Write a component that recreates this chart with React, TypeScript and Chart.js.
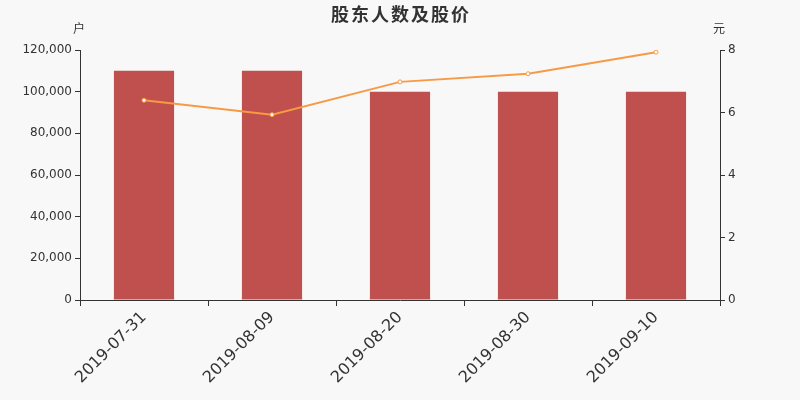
import { useEffect, useRef } from "react";
import { Chart, registerables, Plugin } from "chart.js";

Chart.register(...registerables);

const dates = ["2019-07-31", "2019-08-09", "2019-08-20", "2019-08-30", "2019-09-10"];
const holders = [110000, 110000, 100000, 100000, 100000];
const prices = [6.39, 5.93, 6.98, 7.24, 7.93];

const BG = "#f8f8f8";
const TEXT = "#333333";
const FONT = "'DejaVu Sans', 'Noto Sans CJK SC', sans-serif";

// background, title and the unit labels above each y axis
const decor: Plugin<"bar"> = {
  id: "decor",
  beforeDraw(chart) {
    const { ctx, width, height } = chart;
    ctx.save();
    ctx.fillStyle = BG;
    ctx.fillRect(0, 0, width, height);
    ctx.restore();
  },
  afterDraw(chart) {
    const { ctx, width } = chart;
    const left = chart.scales.y;
    const right = chart.scales.y1;
    ctx.save();
    ctx.fillStyle = TEXT;
    ctx.textAlign = "center";
    ctx.textBaseline = "middle";
    ctx.font = "bold 18px 'Noto Sans CJK SC', sans-serif";
    (ctx as any).letterSpacing = "2px";
    ctx.fillText("股东人数及股价", width / 2 + 1, 14);
    (ctx as any).letterSpacing = "0px";
    ctx.font = "12px 'Noto Sans CJK SC', sans-serif";
    ctx.fillText("户", left.right - 1, 28);
    ctx.fillText("元", right.left - 1, 28);
    ctx.restore();
  },
};

export default function App() {
  const canvasRef = useRef<HTMLCanvasElement | null>(null);

  useEffect(() => {
    document.body.style.margin = "0";
    document.body.style.background = BG;
    if (!canvasRef.current) return;

    const chart = new Chart(canvasRef.current, {
      type: "bar",
      data: {
        labels: dates,
        datasets: [
          {
            type: "line",
            label: "股价",
            data: prices,
            yAxisID: "y1",
            borderColor: "#f79a45",
            borderWidth: 2,
            pointRadius: 2,
            pointBorderWidth: 1,
            pointBackgroundColor: "#ffffff",
            pointBorderColor: "#f79a45",
            tension: 0,
            order: 0,
          } as any,
          {
            type: "bar",
            label: "股东人数",
            data: holders,
            yAxisID: "y",
            backgroundColor: "#c0504d",
            categoryPercentage: 1,
            barPercentage: 0.47,
            order: 1,
          },
        ],
      },
      options: {
        animation: false,
        responsive: false,
        layout: { padding: { top: 50, left: 0, right: 0, bottom: 0 } },
        plugins: {
          legend: { display: false },
          title: { display: false },
          tooltip: { enabled: false },
        },
        scales: {
          x: {
            grid: {
              offset: true,
              drawOnChartArea: false,
              drawTicks: true,
              tickLength: 6,
              color: TEXT,
            },
            border: { display: true, color: TEXT, width: 1 },
            ticks: {
              color: TEXT,
              font: { family: FONT, size: 16 },
              minRotation: 45,
              maxRotation: 45,
              padding: 2,
            },
            afterFit(scale) {
              scale.height = 100;
            },
          },
          y: {
            position: "left",
            min: 0,
            max: 120000,
            grid: {
              drawOnChartArea: false,
              drawTicks: true,
              tickLength: 5,
              color: TEXT,
            },
            border: { display: true, color: TEXT, width: 1 },
            ticks: {
              stepSize: 20000,
              color: TEXT,
              font: { family: FONT, size: 12 },
              padding: 3,
              callback: (v) => Number(v).toLocaleString("en-US"),
            },
            afterFit(scale) {
              scale.width = 80;
            },
          },
          y1: {
            position: "right",
            min: 0,
            max: 8,
            grid: {
              drawOnChartArea: false,
              drawTicks: true,
              tickLength: 5,
              color: TEXT,
            },
            border: { display: true, color: TEXT, width: 1 },
            ticks: {
              stepSize: 2,
              color: TEXT,
              font: { family: FONT, size: 12 },
              padding: 3,
            },
            afterFit(scale) {
              scale.width = 80;
            },
          },
        },
      },
      plugins: [decor],
    });

    return () => {
      chart.destroy();
    };
  }, []);

  return (
    <div style={{ width: 800, height: 400, background: BG }}>
      <canvas ref={canvasRef} width={800} height={400} />
    </div>
  );
}
